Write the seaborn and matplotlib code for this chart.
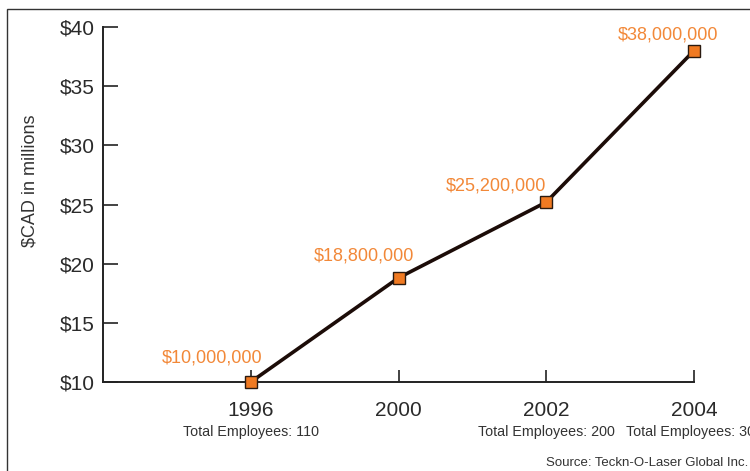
import matplotlib
matplotlib.use("Agg")
import matplotlib.pyplot as plt
import matplotlib.transforms as mtransforms
from matplotlib.patches import Rectangle
import seaborn as sns
import pandas as pd

# ---- data ----
years = ["1996", "2000", "2002", "2004"]
revenue_millions = [10.0, 18.8, 25.2, 38.0]
revenue_labels = ["$10,000,000", "$18,800,000", "$25,200,000", "$38,000,000"]
employees = ["Total Employees: 110", "", "Total Employees: 200", "Total Employees: 300"]
y_ticks = [10, 15, 20, 25, 30, 35, 40]
y_tick_labels = ["$10", "$15", "$20", "$25", "$30", "$35", "$40"]
y_title = "$CAD in millions"
source_text = "Source: Teckn-O-Laser Global Inc."

sns.set_theme(style="white")
plt.rcParams["font.family"] = ["Liberation Sans", "DejaVu Sans"]

df = pd.DataFrame({"pos": range(len(years)), "value": revenue_millions})

fig = plt.figure(figsize=(7.5, 4.71), dpi=100)
ax = fig.add_axes([103/750, 1-382/471, (694-103)/750, (382-27)/471])

sns.lineplot(data=df, x="pos", y="value", ax=ax, color="#1c0c08", linewidth=2.6,
             marker="s", markersize=8.5, markerfacecolor="#f07a22",
             markeredgecolor="#2a1a10", markeredgewidth=1.0, zorder=3, clip_on=False)

ax.set_xlim(-1, 3)
ax.set_ylim(10, 40)
ax.set_yticks(y_ticks)
ax.set_yticklabels(y_tick_labels)
ax.set_xticks(list(range(len(years))))
ax.set_xticklabels(years)
ax.set_xlabel("")
ax.set_ylabel("")

for s in ["top", "right"]:
    ax.spines[s].set_visible(False)
for s in ["left", "bottom"]:
    ax.spines[s].set_color("#222222")
    ax.spines[s].set_linewidth(1.4)

ax.tick_params(axis="y", direction="in", length=11, width=1.2, color="#222222",
               labelsize=15, labelcolor="#2a2a2a", pad=6, left=True)
ax.tick_params(axis="x", direction="in", length=9, width=1.2, color="#222222",
               labelsize=15, labelcolor="#2a2a2a", pad=14, bottom=True)

# data labels
offsets = [(-28, 17), (-24.5, 16), (-36, 11.5), (-19, 11)]
for i, (v, lab) in enumerate(zip(revenue_millions, revenue_labels)):
    ax.annotate(lab, xy=(i, v), xytext=offsets[i], textcoords="offset points",
                ha="center", va="center", fontsize=13, color="#f28838")

# employees under year labels
trans = mtransforms.blended_transform_factory(ax.transData, fig.transFigure)
for i, e in enumerate(employees):
    if e:
        ax.text(i, 1-432/471, e, transform=trans, ha="center", va="center",
                fontsize=10.3, color="#333333", clip_on=False)

fig.text(30/750, 1-181/471, y_title, rotation=90, ha="center", va="center",
         fontsize=13, color="#333333")
fig.text(748/750, 1-463/471, source_text, ha="right", va="center",
         fontsize=9.5, color="#333333")

fig.patches.append(Rectangle((7/750, -0.2), 2, 1.2 - 9/471, transform=fig.transFigure,
                             fill=False, edgecolor="#333333", linewidth=1.0))

fig.savefig("out.png", dpi=100)
